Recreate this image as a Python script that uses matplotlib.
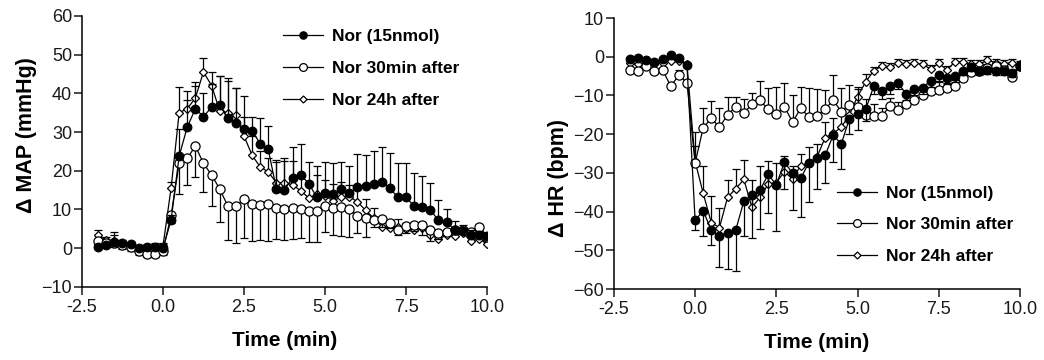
import numpy as np
import matplotlib
matplotlib.use("Agg")
import matplotlib.pyplot as plt

plt.rcParams['font.family'] = ['Liberation Sans', 'DejaVu Sans']

# time points (min), one every 0.25 min
time = np.arange(-2.0, 10.01, 0.25)

# ---- left panel: delta MAP (mmHg) ----
map_nor = [0.3, 0.8, 1.5, 1.4, 1.1, 0.0, 0.2, 0.2, 0.0,
           7.2, 23.8, 31.3, 36.0, 34.0, 36.4, 36.9, 33.6, 32.4, 30.9, 30.3,
           27.0, 25.5, 15.3, 15.1, 18.1, 18.9, 16.7, 13.1, 14.3, 14.1,
           15.3, 14.2, 15.9, 16.0, 16.7, 17.2, 15.5, 13.1, 13.1, 10.9,
           10.6, 9.9, 7.2, 6.7, 4.8, 4.5, 3.5, 3.5, 3.2]
map_nor_err = [0.8, 0.6, 2.7, 0.5, 0.5, 0.8, 1.0, 1.2, 1.0,
               1.5, 7.0, 7.0, 6.0, 6.0, 6.0, 7.5, 9.5, 9.0, 8.5, 3.5,
               6.5, 6.0, 7.0, 7.5, 8.0, 8.0, 5.5, 8.0, 8.0, 8.0,
               7.0, 7.0, 8.5, 8.0, 8.5, 9.0, 9.0, 9.0, 9.0, 8.5,
               8.0, 7.0, 5.3, 3.5, 2.3, 1.5, 1.2, 1.0, 1.0]

map_30 = [1.9, 1.3, 1.4, 0.9, 0.3, -0.8, -1.4, -1.4, -0.7,
          8.5, 21.9, 23.2, 26.4, 21.9, 18.9, 15.3, 10.9, 10.9, 12.7, 11.4,
          11.2, 11.4, 10.5, 10.2, 10.5, 10.2, 9.5, 9.7, 10.8, 10.3,
          10.7, 10.0, 8.4, 7.8, 7.4, 7.5, 6.6, 4.8, 5.8, 5.9,
          5.9, 4.8, 3.8, 4.3, 4.7, 4.8, 4.1, 5.5, 3.0]
map_30_err = [1.0, 1.0, 1.0, 1.0, 1.0, 1.0, 1.0, 1.0, 1.0,
              2.0, 8.0, 7.0, 8.0, 7.5, 8.0, 8.5, 8.7, 9.5, 10.0, 9.5,
              9.0, 9.5, 8.0, 8.0, 8.0, 7.5, 8.0, 8.0, 6.5, 7.0,
              7.5, 7.0, 4.5, 5.0, 2.0, 2.0, 1.5, 1.5, 2.0, 1.5,
              2.5, 3.0, 1.5, 1.0, 1.0, 1.0, 1.0, 1.0, 1.0]

map_24 = [3.4, 2.0, 1.8, 1.2, 0.8, -0.5, -0.3, 0.3, 0.5,
          15.5, 35.0, 36.0, 38.8, 45.5, 42.0, 35.5, 35.0, 34.3, 29.0, 24.0,
          21.0, 19.7, 16.9, 16.9, 16.4, 14.8, 13.0, 14.0, 13.6, 12.2,
          13.2, 13.3, 12.0, 9.8, 7.8, 5.6, 5.3, 5.5, 5.0, 4.8,
          5.2, 3.5, 2.4, 3.3, 3.2, 4.0, 1.8, 2.5, 1.0]
map_24_err = [1.2, 0.8, 1.5, 0.8, 0.8, 0.8, 0.8, 0.8, 0.8,
              1.5, 6.5, 4.5, 4.0, 3.5, 3.5, 9.0, 9.0, 7.0, 5.0, 5.0,
              4.0, 3.5, 6.0, 6.5, 6.0, 4.0, 3.5, 5.0, 4.0, 4.5,
              4.0, 3.0, 3.0, 3.0, 2.5, 2.0, 2.0, 2.0, 1.5, 1.5,
              1.5, 1.5, 1.5, 1.0, 1.0, 1.0, 1.0, 1.0, 1.0]

# ---- right panel: delta HR (bpm) ----
hr_nor = [-0.7, -0.3, -0.9, -1.4, -0.7, 0.4, -0.3, -2.2, -42.2,
          -39.8, -44.8, -46.3, -45.4, -44.8, -37.3, -35.7, -34.4, -30.4, -33.1, -27.2,
          -30.1, -31.4, -27.4, -26.1, -25.5, -20.3, -22.5, -16.0, -14.8, -13.6,
          -7.6, -8.8, -7.6, -6.9, -9.6, -8.4, -8.0, -6.2, -4.7, -5.6,
          -5.0, -3.6, -2.6, -3.6, -3.4, -3.7, -3.7, -4.3, -2.4]
hr_nor_err = [0.5, 0.5, 0.5, 0.5, 0.5, 0.5, 0.5, 0.5, 2.5,
              6.5, 3.8, 8.0, 9.5, 10.5, 9.0, 11.0, 10.0, 10.0, 12.0, 7.0,
              9.5, 10.0, 10.0, 8.0, 7.0, 7.0, 6.5, 4.0, 4.0, 3.0,
              2.0, 2.0, 2.0, 1.5, 1.5, 1.5, 1.5, 1.5, 1.5, 1.5,
              1.5, 1.0, 1.0, 1.0, 1.0, 1.0, 1.0, 1.0, 1.0]

hr_30 = [-3.4, -3.6, -2.5, -3.7, -3.4, -7.6, -4.8, -6.7, -27.5,
         -18.3, -15.9, -18.2, -15.0, -12.9, -14.5, -12.3, -11.3, -13.6, -14.8, -12.9,
         -16.9, -13.3, -15.5, -15.3, -13.6, -11.2, -14.2, -12.4, -12.9, -15.0,
         -15.3, -15.3, -12.7, -13.8, -12.2, -11.2, -10.0, -8.8, -8.6, -8.2,
         -7.6, -5.6, -3.9, -3.6, -3.0, -2.4, -3.4, -5.2, -2.5]
hr_30_err = [0.5, 0.5, 0.5, 0.5, 0.5, 0.5, 1.5, 0.5, 8.0,
             5.0, 4.5, 5.0, 4.5, 2.5, 3.5, 3.0, 5.0, 5.5, 7.0, 6.0,
             7.0, 5.5, 7.5, 7.0, 5.0, 6.5, 6.0, 5.0, 4.5, 4.0,
             3.0, 2.0, 2.0, 2.0, 2.0, 2.0, 2.0, 2.0, 2.0, 1.5,
             1.5, 1.5, 1.0, 1.0, 1.0, 1.0, 1.0, 1.0, 1.0]

hr_24 = [-1.5, -2.0, -1.5, -2.0, -1.5, -1.0, -1.0, -2.0, -27.0,
         -35.3, -42.9, -44.1, -36.3, -34.1, -31.7, -38.9, -36.3, -32.9, -32.5, -29.7,
         -31.6, -28.1, -27.4, -26.0, -20.9, -19.8, -18.2, -15.0, -10.3, -6.5,
         -3.6, -2.4, -2.6, -1.7, -1.9, -1.7, -1.9, -3.2, -1.7, -3.4,
         -1.3, -1.3, -1.9, -1.9, -0.9, -1.5, -1.9, -1.5, -2.0]
hr_24_err = [0.5, 0.5, 0.5, 0.5, 0.5, 0.5, 0.5, 0.5, 4.0,
             7.0, 7.0, 5.0, 4.5, 5.0, 5.0, 7.0, 8.0, 6.0, 5.0, 4.0,
             3.5, 3.0, 4.0, 3.5, 4.0, 4.0, 4.0, 2.5, 2.5, 2.0,
             1.0, 1.0, 1.0, 1.0, 1.0, 1.0, 1.0, 1.0, 1.0, 1.0,
             1.0, 1.0, 1.0, 1.0, 1.0, 1.0, 1.0, 1.0, 1.0]

labels = ['Nor (15nmol)', 'Nor 30min after', 'Nor 24h after']


def one_sided(err, up=True):
    err = np.asarray(err)
    z = np.zeros_like(err)
    return [z, err] if up else [err, z]


def panel(ax, series, ylim, yticks, ylabel, label_xy, leg_anchor):
    styles = [dict(marker='o', ms=6.2, mfc='black', mec='black'),
              dict(marker='o', ms=6.6, mfc='white', mec='black'),
              dict(marker='D', ms=4.2, mfc='white', mec='black')]
    for i in [2, 1, 0]:
        y, err, up = series[i]
        ax.errorbar(time, y, yerr=one_sided(err, up), color='black',
                    lw=0.9, elinewidth=0.9, capsize=2.6, capthick=0.9,
                    mew=0.9, zorder=3 + (2 - i), **styles[i])
    ax.set_xlim(-2.5, 10.0)
    ax.set_ylim(*ylim)
    ax.set_xticks([-2.5, 0.0, 2.5, 5.0, 7.5, 10.0])
    ax.set_xticklabels(['-2.5', '0.0', '2.5', '5.0', '7.5', '10.0'])
    ax.set_yticks(yticks)
    ax.spines['top'].set_visible(False)
    ax.spines['right'].set_visible(False)
    for s in ['left', 'bottom']:
        ax.spines[s].set_linewidth(1.1)
    ax.tick_params(direction='out', length=5.5, width=1.1, labelsize=13,
                   colors='#1a1a1a')
    ax.tick_params(axis='y', pad=1.5)
    ax.tick_params(axis='x', pad=3)
    ax.set_xlabel('Time (min)', fontsize=15, fontweight='bold', labelpad=11)
    ax.set_ylabel(ylabel, fontsize=15.5, fontweight='bold')
    ax.yaxis.set_label_coords(*label_xy)
    # legend: line + marker only (no error bars)
    leg_h = [plt.Line2D([], [], color='black', lw=0.9, mew=0.9, **styles[i]) for i in range(3)]
    ax.legend(leg_h, labels, loc='upper left', bbox_to_anchor=leg_anchor,
              frameon=False, handlelength=2.3, handletextpad=0.55,
              labelspacing=0.96, borderpad=0, borderaxespad=0, markerscale=0.85,
              prop=dict(weight='bold', size=12.5))


fig = plt.figure(figsize=(10.44, 3.6), dpi=100)
ax1 = fig.add_axes([0.0785, 0.203, 0.388, 0.753])
ax2 = fig.add_axes([0.588, 0.197, 0.389, 0.753])

panel(ax1,
      [(map_nor, map_nor_err, True), (map_30, map_30_err, False), (map_24, map_24_err, True)],
      (-10, 60), np.arange(-10, 61, 10), '\u0394 MAP (mmHg)', (-0.111, 0.561), (0.496, 0.952))
panel(ax2,
      [(hr_nor, hr_nor_err, False), (hr_30, hr_30_err, True), (hr_24, hr_24_err, True)],
      (-60, 10), np.arange(-60, 11, 10), '\u0394 HR (bpm)', (-0.111, 0.41), (0.549, 0.382))

fig.savefig('out.png', dpi=100)
